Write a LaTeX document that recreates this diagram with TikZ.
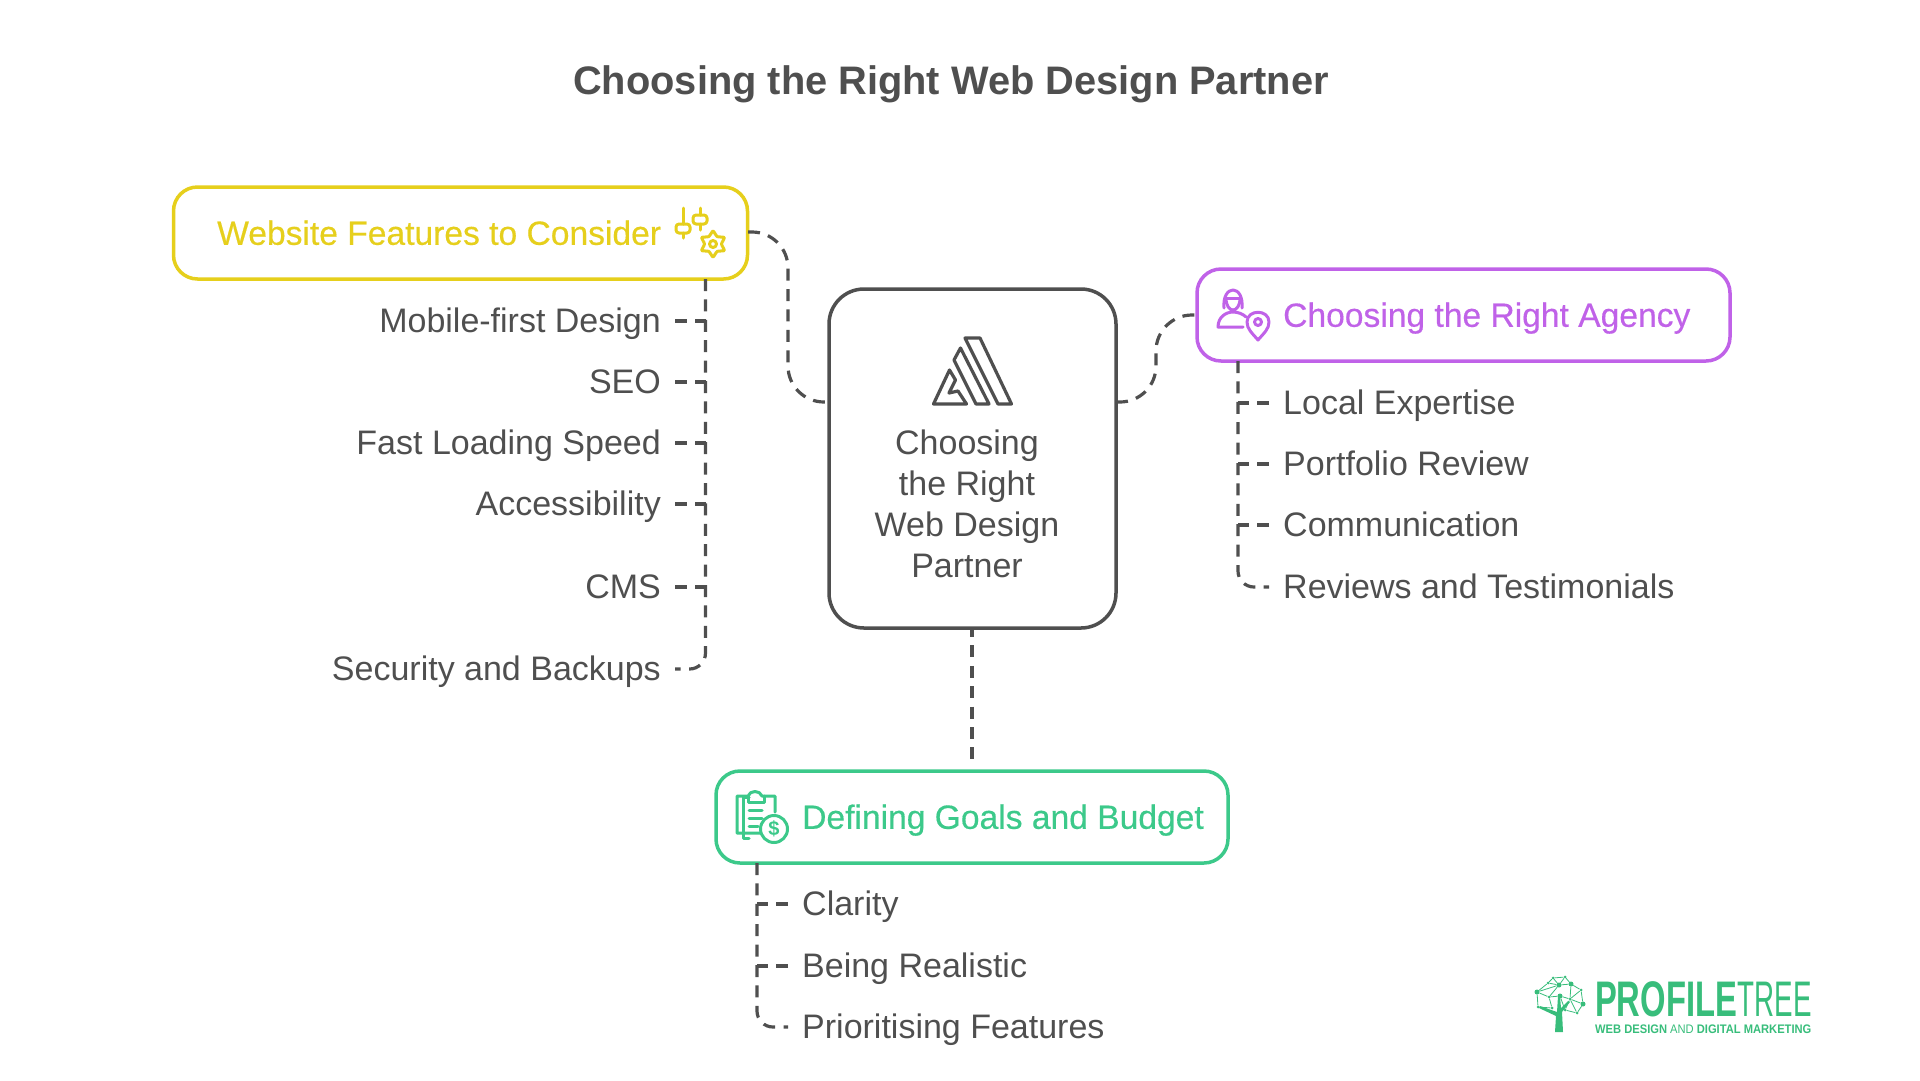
\documentclass[tikz,border=0pt]{standalone}
\usepackage{fontspec}
\setmainfont{Liberation Sans}
\newfontfamily\headfont[FakeBold=0.4]{Liberation Sans}
\definecolor{inkgrey}{HTML}{4F4F4F}
\definecolor{featyellow}{HTML}{E6CF1C}
\definecolor{agencypurple}{HTML}{C062E8}
\definecolor{goalgreen}{HTML}{3CC98A}
\definecolor{treegreen}{HTML}{38BD7B}
\tikzset{
    link/.style={draw=inkgrey, line width=3.2pt, dash pattern=on 12pt off 8.4pt},
    topicbox/.style={draw, line width=3.5pt, rounded corners=24pt, fill=white},
    flatline/.style={inner sep=0pt, text height=23.6pt, text depth=0pt},
    topiclabel/.style={flatline, anchor=west, font=\headfont\fontsize{33.6}{33.6}\selectfont},
    itemleft/.style={flatline, anchor=east, text=inkgrey, font=\fontsize{34}{34}\selectfont},
    itemright/.style={flatline, anchor=west, text=inkgrey, font=\fontsize{34}{34}\selectfont},
    icon/.style={line width=3pt, line join=round, line cap=round},
    twig/.style={draw=treegreen, line width=0.8pt},
    leaf/.style={circle, fill=treegreen, inner sep=0pt, minimum size=#1},
}
\begin{document}
\begin{tikzpicture}[x=1pt, y=-1pt]
\useasboundingbox (0,0) rectangle (1920,1080);

\node[flatline, text height=29pt, text=inkgrey, font=\fontsize{39.8}{39.8}\selectfont\bfseries] (title) at (951,80) {Choosing the Right Web Design Partner};

% the four boxes
\node[topicbox, draw=inkgrey, rounded corners=35pt, minimum width=287pt, minimum height=339pt] (partner) at (972.5,458.5) {};
\node[topicbox, draw=featyellow, minimum width=574pt, minimum height=92pt] (features) at (460.5,233) {};
\node[topicbox, draw=agencypurple, minimum width=533pt, minimum height=92pt] (agency) at (1463.5,315) {};
\node[topicbox, draw=goalgreen, minimum width=512pt, minimum height=92pt] (goals) at (972,817) {};

\node[topiclabel, text=featyellow] (featuresText) at (217,233) {Website Features to Consider};
\node[topiclabel, text=agencypurple] (agencyText) at (1283,315) {Choosing the Right Agency};
\node[topiclabel, text=goalgreen] (goalsText) at (802,817) {Defining Goals and Budget};

\foreach \row/\ypos [count=\n] in {Choosing/443,the Right/484,Web Design/525,Partner/566}
    {
        \node[flatline, text=inkgrey, font=\fontsize{34}{34}\selectfont] (partnerLine\n) at (967,\ypos) {\row};
    }

% links between the boxes
\coordinate (partnerLeft) at (829,402);
\coordinate (partnerRight) at (1116,402);
\coordinate (featuresOut) at (748,232);
\coordinate (agencyOut) at (1197,315);
\coordinate (partnerOut) at (972,628);
\draw[link, rounded corners=36pt] (featuresOut) -| (788,402) -- (partnerLeft);
\draw[link, rounded corners=36pt] (partnerRight) -| (1156,315) -- (agencyOut);
\draw[link, dash phase=3pt, shorten >=3pt] (partnerOut) -- (goals.north);

% left list
\coordinate (featuresRoot) at (705.5,279);
\foreach \name/\text/\ypos in {mobile/Mobile-first Design/321,seo/SEO/382,speed/Fast Loading Speed/443,access/Accessibility/504,cms/CMS/587}
    {
        \node[itemleft] (\name) at (661,\ypos) {\text};
        \draw[link, shorten <=14pt] (\name.east) -- (\name.east -| featuresRoot);
    }
\node[itemleft] (security) at (661,669) {Security and Backups};
\draw[link, rounded corners=16pt, shorten >=14pt] (featuresRoot) |- (security.east);

% right list
\coordinate (agencyRoot) at (1238,361);
\foreach \name/\text/\ypos in {local/Local Expertise/403,portfolio/Portfolio Review/464,talk/Communication/525}
    {
        \node[itemright] (\name) at (1283,\ypos) {\text};
        \draw[link, shorten <=14pt] (\name.west) -- (\name.west -| agencyRoot);
    }
\node[itemright] (reviews) at (1283,587) {Reviews and Testimonials};
\draw[link, rounded corners=16pt, shorten >=14pt] (agencyRoot) |- (reviews.west);

% bottom list
\coordinate (goalsRoot) at (757,863);
\foreach \name/\text/\ypos in {clarity/Clarity/904,realistic/Being Realistic/966}
    {
        \node[itemright] (\name) at (802,\ypos) {\text};
        \draw[link, shorten <=14pt] (\name.west) -- (\name.west -| goalsRoot);
    }
\node[itemright] (priority) at (802,1027) {Prioritising Features};
\draw[link, rounded corners=16pt, shorten >=14pt] (goalsRoot) |- (priority.west);

% mark in the middle box
\begin{scope}[icon, draw=inkgrey, line width=3.2pt]
\draw (965,338) -- (980,338) -- (1011.5,404) -- (998,404) -- cycle;
\draw (960.5,348) -- (989,404) -- (976,404) -- (954,360) -- cycle;
\draw (949.5,370) -- (933.5,404) -- (966.5,404) -- (958,391) -- (949,393) -- (955.5,380) -- cycle;
\end{scope}

% sliders and gear
\begin{scope}[icon, draw=featyellow]
\draw (683,208) -- (683,224) (683,233) -- (683,238);
\draw[rounded corners=3pt] (676,224) rectangle (690,233);
\draw (700,208) -- (700,215) (700,224) -- (700,230);
\draw[rounded corners=3pt] (693,215) rectangle (707,224);
\draw (713,244) circle (3.5);
\draw plot[smooth cycle, tension=0.3] coordinates {(713,231) (717.2,236.6) (724.3,237.5) (721.5,244) (724.3,250.5) (717.2,251.4) (713,257) (708.8,251.4) (701.7,250.5) (704.5,244) (701.7,237.5) (708.8,236.6)};
\end{scope}

% person and pin
\begin{scope}[icon, draw=agencypurple]
\draw (1224,308) .. controls (1222,284) and (1244,284) .. (1242,308);
\draw (1225,298) -- (1241,298);
\draw (1226,298) .. controls (1226,314) and (1240,314) .. (1240,298);
\draw (1243,327) -- (1218,327) .. controls (1218,317) and (1226,312) .. (1233,312) .. controls (1238,312) and (1243,314) .. (1246,317);
\draw (1258,340) .. controls (1252,333) and (1247,329) .. (1247,322) .. controls (1247,309) and (1269,309) .. (1269,322) .. controls (1269,329) and (1264,333) .. (1258,340) -- cycle;
\draw (1258,322) circle (3.5);
\end{scope}

% clipboard and coin
\begin{scope}[icon, draw=goalgreen]
\draw (749,838) -- (743,838) |- (749,797);
\draw (760,833) -- (737,833) -- (737,796) -- (748,796) .. controls (750,790) and (760,790) .. (762,796) -- (775,796) -- (775,812);
\draw (748,796) -- (748,802) -- (764,802) -- (764,796);
\draw (749,810) -- (762,810) (749,818) -- (762,818) (749,826) -- (758,826);
\draw (774,829) circle (13.5);
\node[inner sep=0pt, text=goalgreen, font=\fontsize{20}{20}\selectfont\bfseries] (coinSign) at (774,829) {\$};
\end{scope}

% logo lettering
\node[inner sep=0pt, anchor=west, text=treegreen, xscale=0.655, font=\fontsize{50}{50}\selectfont\bfseries] (logoBold) at (1595,999) {PROFILE};
\node[inner sep=0pt, anchor=east, text=treegreen, xscale=0.555, font=\fontsize{50}{50}\selectfont] (logoLight) at (1812,999) {TREE};
\node[inner sep=0pt, anchor=west, text=treegreen, xscale=0.9, font=\fontsize{12.4}{12.4}\selectfont\bfseries] (logoTag) at (1595,1029) {WEB DESIGN {\mdseries AND} DIGITAL MARKETING};

% logo tree
\foreach \name/\xpos/\ypos/\size in {a/1537/992/5pt,b/1548/983/3pt,c/1553/978/3pt,d/1565/977/3pt,e/1559/985/5pt,f/1571/984/5pt,g/1581/990/3pt,h/1583/1004/5pt,i/1577/1013/3pt,j/1570/999/3pt,k/1560/996/5pt,l/1549/997/3pt,m/1538/1007/3pt,n/1552/1008/3pt,o/1565/1010/3pt}
    {
        \node[leaf=\size] (leaf\name) at (\xpos,\ypos) {};
    }
\foreach \from/\to in {a/b,b/c,c/d,d/f,f/g,g/h,h/i,i/o,o/j,j/h,a/l,l/e,e/f,e/c,e/b,f/j,g/j,a/m,m/n,l/n,l/k,k/j,k/o,a/e,j/i,d/e}
    {
        \draw[twig] (leaf\from) -- (leaf\to);
    }
\fill[treegreen] (1555,1032) -- (1563,1032) -- (1562,1012) -- (1570,1002) -- (1568,1001) -- (1561,1008) -- (1560,996) -- (1558,996) -- (1557,1012) -- (1540,1006) -- (1539,1008) -- (1556,1016) -- cycle;
\end{tikzpicture}
\end{document}
